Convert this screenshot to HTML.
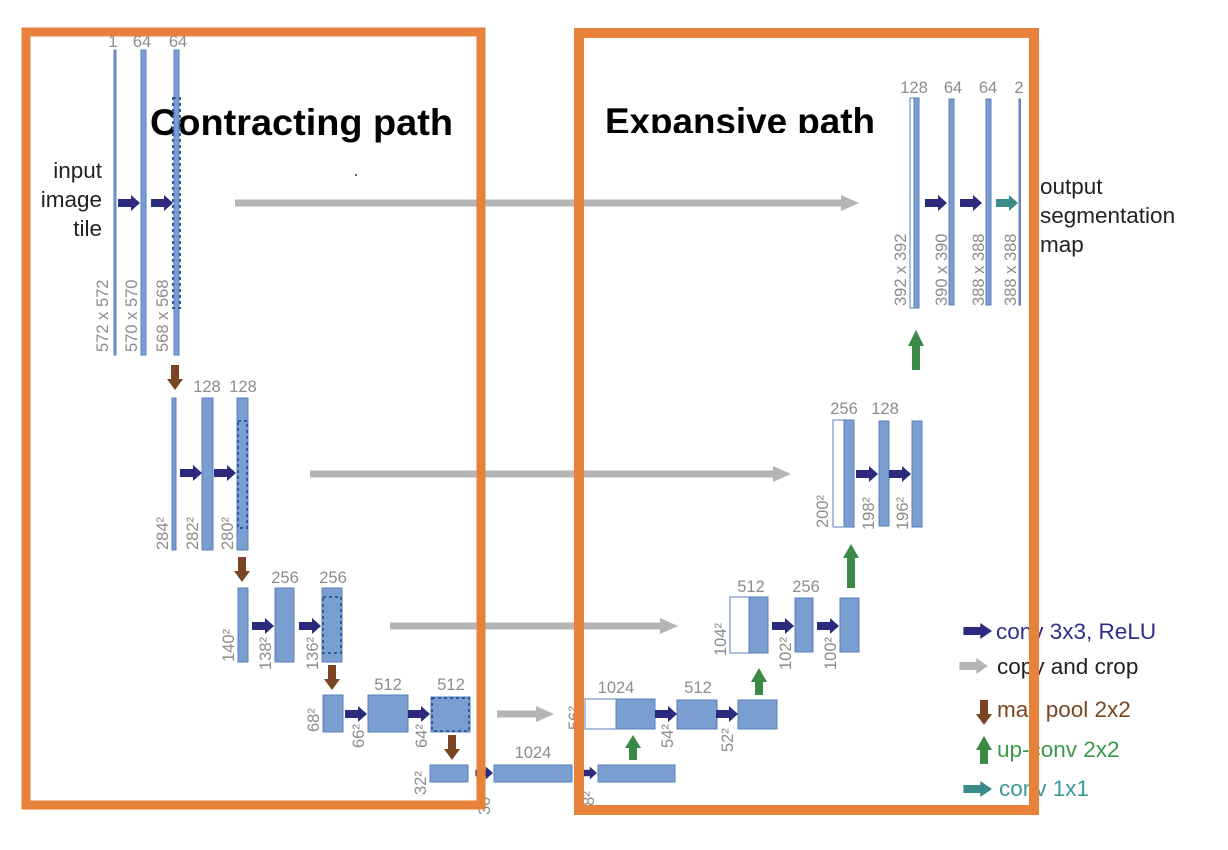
<!DOCTYPE html>
<html><head><meta charset="utf-8"><style>
html,body{margin:0;padding:0;background:#fff;}
svg{display:block;}
.l{font-family:"Liberation Sans",sans-serif;font-size:16.5px;fill:#8c8c8c;}
.t{font-family:"Liberation Sans",sans-serif;font-size:22.5px;fill:#222;}
.b{fill:#7a9ecf;stroke:#5a80bd;stroke-width:1;}
.w{fill:#fff;stroke:#5a80bd;stroke-width:1;}
.d{fill:none;stroke:#2f5d9e;stroke-width:2;stroke-dasharray:3,3;}
.c{fill:#2b2a7c;}
.g{stroke:#b5b5b5;stroke-width:7;}
.gh{fill:#b5b5b5;}
.p{fill:#7a4522;}
.u{fill:#3a8a45;}
</style></head><body>
<svg width="1228" height="850" viewBox="0 0 1228 850" xmlns="http://www.w3.org/2000/svg">
<defs>
<path id="ca" d="M-22,-4 H-9 V-8 L0,0 L-9,8 V4 H-22 Z"/>
<path id="pa" d="M-4,-25 H4 V-11 H8 L0,0 L-8,-11 H-4 Z"/>
<clipPath id="clipE"><rect x="590" y="90" width="320" height="43"/></clipPath>
</defs>

<!-- titles -->
<text x="150" y="135" font-family="Liberation Sans,sans-serif" font-weight="bold" font-size="37" textLength="303" lengthAdjust="spacingAndGlyphs" fill="#000">Contracting path</text>
<text x="605" y="134" font-family="Liberation Sans,sans-serif" font-weight="bold" font-size="37" textLength="270" lengthAdjust="spacingAndGlyphs" fill="#000" clip-path="url(#clipE)">Expansive path</text>

<!-- input text -->
<text class="t" x="102" y="178" text-anchor="end">input</text>
<text class="t" x="102" y="207" text-anchor="end">image</text>
<text class="t" x="102" y="236" text-anchor="end">tile</text>

<!-- level 1 down -->
<rect class="b" x="114" y="50" width="2" height="305"/>
<rect class="b" x="141" y="50" width="5" height="305"/>
<rect class="b" x="174" y="50" width="5" height="305"/>
<rect class="d" x="173" y="98" width="7" height="210"/>
<text class="l" x="113" y="47" text-anchor="middle">1</text>
<text class="l" x="142" y="47" text-anchor="middle">64</text>
<text class="l" x="178" y="47" text-anchor="middle">64</text>
<text class="l" transform="translate(108,352) rotate(-90)">572 x 572</text>
<text class="l" transform="translate(137,352) rotate(-90)">570 x 570</text>
<text class="l" transform="translate(168,352) rotate(-90)">568 x 568</text>
<use href="#ca" class="c" transform="translate(140,203)"/>
<use href="#ca" class="c" transform="translate(173,203)"/>
<line class="g" x1="235" y1="203" x2="843" y2="203"/>
<polygon class="gh" points="841,195 859,203 841,211"/>

<!-- level 2 down -->
<use href="#pa" class="p" transform="translate(175,390)"/>
<rect class="b" x="172" y="398" width="4" height="152"/>
<rect class="b" x="202" y="398" width="11" height="152"/>
<rect class="b" x="237" y="398" width="11" height="152"/>
<rect class="d" x="238" y="421" width="9" height="107"/>
<text class="l" x="207" y="392" text-anchor="middle">128</text>
<text class="l" x="243" y="392" text-anchor="middle">128</text>
<text class="l" transform="translate(168,550) rotate(-90)">284²</text>
<text class="l" transform="translate(198,550) rotate(-90)">282²</text>
<text class="l" transform="translate(233,550) rotate(-90)">280²</text>
<use href="#ca" class="c" transform="translate(202,473)"/>
<use href="#ca" class="c" transform="translate(236,473)"/>
<line class="g" x1="310" y1="474" x2="775" y2="474"/>
<polygon class="gh" points="773,466 791,474 773,482"/>

<!-- level 3 down -->
<use href="#pa" class="p" transform="translate(242,582)"/>
<rect class="b" x="238" y="588" width="10" height="74"/>
<rect class="b" x="275" y="588" width="19" height="74"/>
<rect class="b" x="322" y="588" width="20" height="74"/>
<rect class="d" x="323" y="597" width="18" height="56"/>
<text class="l" x="285" y="583" text-anchor="middle">256</text>
<text class="l" x="333" y="583" text-anchor="middle">256</text>
<text class="l" transform="translate(234,662) rotate(-90)">140²</text>
<text class="l" transform="translate(271,670) rotate(-90)">138²</text>
<text class="l" transform="translate(318,670) rotate(-90)">136²</text>
<use href="#ca" class="c" transform="translate(274,626)"/>
<use href="#ca" class="c" transform="translate(321,626)"/>
<line class="g" x1="390" y1="626" x2="662" y2="626"/>
<polygon class="gh" points="660,618 678,626 660,634"/>

<!-- level 4 down -->
<use href="#pa" class="p" transform="translate(332,690)"/>
<rect class="b" x="323" y="695" width="20" height="37"/>
<rect class="b" x="368" y="695" width="40" height="37"/>
<rect class="b" x="431" y="697" width="39" height="35"/>
<rect class="d" x="432" y="698" width="37" height="33"/>
<text class="l" x="388" y="690" text-anchor="middle">512</text>
<text class="l" x="451" y="690" text-anchor="middle">512</text>
<text class="l" transform="translate(319,732) rotate(-90)">68²</text>
<text class="l" transform="translate(364,748) rotate(-90)">66²</text>
<text class="l" transform="translate(427,748) rotate(-90)">64²</text>
<use href="#ca" class="c" transform="translate(367,714)"/>
<use href="#ca" class="c" transform="translate(430,714)"/>
<line class="g" x1="497" y1="714" x2="538" y2="714"/>
<polygon class="gh" points="536,706 554,714 536,722"/>

<!-- level 5 -->
<use href="#pa" class="p" transform="translate(452,760)"/>
<rect class="b" x="430" y="765" width="38" height="17"/>
<rect class="b" x="494" y="765" width="78" height="17"/>
<rect class="b" x="598" y="765" width="77" height="17"/>
<text class="l" x="533" y="758" text-anchor="middle">1024</text>
<text class="l" transform="translate(426,795) rotate(-90)">32²</text>
<text class="l" transform="translate(490,815) rotate(-90)">30²</text>
<text class="l" transform="translate(594,815) rotate(-90)">28²</text>
<use href="#ca" class="c" transform="translate(493,773) scale(0.8)"/>
<use href="#ca" class="c" transform="translate(597,773) scale(0.8)"/>

<!-- level 4 up -->
<path class="u" d="M629,760 H637 V748 H641 L633,735 L625,748 H629 Z"/>
<rect class="w" x="585" y="699" width="31" height="30"/>
<rect class="b" x="616" y="699" width="39" height="30"/>
<rect class="b" x="677" y="700" width="40" height="29"/>
<rect class="b" x="738" y="700" width="39" height="29"/>
<text class="l" x="616" y="693" text-anchor="middle">1024</text>
<text class="l" x="698" y="693" text-anchor="middle">512</text>
<text class="l" transform="translate(580,730) rotate(-90)">56²</text>
<text class="l" transform="translate(673,748) rotate(-90)">54²</text>
<text class="l" transform="translate(733,752) rotate(-90)">52²</text>
<use href="#ca" class="c" transform="translate(677,714)"/>
<use href="#ca" class="c" transform="translate(738,714)"/>

<!-- level 3 up -->
<path class="u" d="M755,695 H763 V682 H767 L759,668 L751,682 H755 Z"/>
<rect class="w" x="730" y="597" width="19" height="56"/>
<rect class="b" x="749" y="597" width="19" height="56"/>
<rect class="b" x="795" y="598" width="18" height="54"/>
<rect class="b" x="840" y="598" width="19" height="54"/>
<text class="l" x="751" y="592" text-anchor="middle">512</text>
<text class="l" x="806" y="592" text-anchor="middle">256</text>
<text class="l" transform="translate(726,656) rotate(-90)">104²</text>
<text class="l" transform="translate(791,670) rotate(-90)">102²</text>
<text class="l" transform="translate(836,670) rotate(-90)">100²</text>
<use href="#ca" class="c" transform="translate(794,626)"/>
<use href="#ca" class="c" transform="translate(839,626)"/>

<!-- level 2 up -->
<path class="u" d="M847,588 H855 V558 H859 L851,544 L843,558 H847 Z"/>
<rect class="w" x="833" y="420" width="11" height="107"/>
<rect class="b" x="844" y="420" width="10" height="107"/>
<rect class="b" x="879" y="421" width="10" height="105"/>
<rect class="b" x="912" y="421" width="10" height="106"/>
<text class="l" x="844" y="414" text-anchor="middle">256</text>
<text class="l" x="885" y="414" text-anchor="middle">128</text>
<text class="l" transform="translate(828,528) rotate(-90)">200²</text>
<text class="l" transform="translate(874,530) rotate(-90)">198²</text>
<text class="l" transform="translate(908,530) rotate(-90)">196²</text>
<use href="#ca" class="c" transform="translate(878,474)"/>
<use href="#ca" class="c" transform="translate(911,474)"/>

<!-- level 1 up -->
<path class="u" d="M912,370 H920 V346 H924 L916,330 L908,346 H912 Z"/>
<rect class="w" x="910" y="98" width="5" height="210"/>
<rect class="b" x="914" y="98" width="5" height="210"/>
<rect class="b" x="949" y="99" width="5" height="206"/>
<rect class="b" x="986" y="99" width="5" height="206"/>
<rect class="b" x="1019" y="99" width="1.5" height="206"/>
<text class="l" x="914" y="93" text-anchor="middle">128</text>
<text class="l" x="953" y="93" text-anchor="middle">64</text>
<text class="l" x="988" y="93" text-anchor="middle">64</text>
<text class="l" x="1019" y="93" text-anchor="middle">2</text>
<text class="l" transform="translate(906,306) rotate(-90)">392 x 392</text>
<text class="l" transform="translate(947,306) rotate(-90)">390 x 390</text>
<text class="l" transform="translate(984,306) rotate(-90)">388 x 388</text>
<text class="l" transform="translate(1016,306) rotate(-90)">388 x 388</text>
<use href="#ca" class="c" transform="translate(947,203)"/>
<use href="#ca" class="c" transform="translate(982,203)"/>
<use href="#ca" fill="#3a8a88" transform="translate(1018,203)"/>
<text class="t" x="1040" y="194">output</text>
<text class="t" x="1040" y="223">segmentation</text>
<text class="t" x="1040" y="252">map</text>

<!-- legend -->
<use href="#ca" class="c" transform="translate(992,631) scale(1.3,1)"/>
<text class="t" x="996" y="639" style="fill:#2e2d8a">conv 3x3, ReLU</text>
<use href="#ca" class="gh" transform="translate(988,666) scale(1.3,1)"/>
<text class="t" x="997" y="674">copy and crop</text>
<use href="#pa" class="p" transform="translate(984,725)"/>
<text class="t" x="997" y="717" style="fill:#7a4522">max pool 2x2</text>
<path class="u" d="M980,764 H988 V750 H992 L984,736 L976,750 H980 Z"/>
<text class="t" x="997" y="757" style="fill:#3a9a48">up-conv 2x2</text>
<use href="#ca" fill="#3a8a88" transform="translate(992,789) scale(1.3,1)"/>
<text class="t" x="999" y="796" style="fill:#3a9a9a">conv 1x1</text>

<!-- orange frames -->
<rect x="26" y="32" width="455" height="773" fill="none" stroke="#e8823a" stroke-width="9"/>
<rect x="579" y="33" width="455" height="777" fill="none" stroke="#e8823a" stroke-width="10"/>
<circle cx="356" cy="175" r="1" fill="#333"/>
</svg>
</body></html>
